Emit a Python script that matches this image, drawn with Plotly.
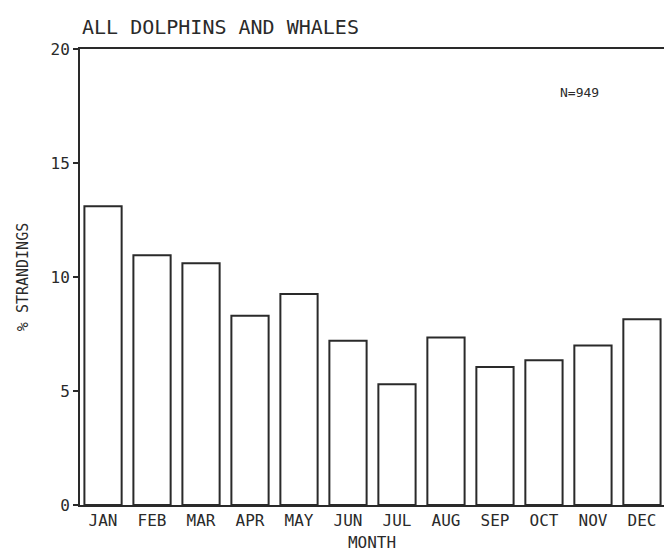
import plotly.graph_objects as go

months = ["JAN", "FEB", "MAR", "APR", "MAY", "JUN", "JUL", "AUG", "SEP", "OCT", "NOV", "DEC"]
month_labels = ["JAN", "FEB", "MAR", "APR", "MAY", "JUN", "JUL", "AUG", "SEP", "OCT", "NOV", "DEC"]
pct_strandings = [13.1, 10.95, 10.6, 8.3, 9.25, 7.2, 5.3, 7.35, 6.05, 6.35, 7.0, 8.15]
y_ticks = [0, 5, 10, 15, 20]

INK = "#2a2a2a"
FONT = "DejaVu Sans Mono"

fig = go.Figure()
fig.add_trace(go.Bar(
    x=list(range(len(months))),
    y=pct_strandings,
    marker=dict(color="white", line=dict(color=INK, width=2)),
    width=0.76,
    hoverinfo="skip",
))

fig.update_layout(
    width=664, height=559,
    paper_bgcolor="white", plot_bgcolor="white",
    margin=dict(l=80, r=0, t=49, b=54),
    showlegend=False,
    font=dict(family=FONT, color=INK),
    title=dict(text="ALL DOLPHINS AND WHALES", x=82/664, xanchor="left",
               y=1 - 27/559, yanchor="middle",
               font=dict(family=FONT, size=20, color=INK)),
    xaxis=dict(
        range=[-0.47, 11.45],
        tickmode="array", tickvals=list(range(len(months))), ticktext=month_labels,
        ticks="", showgrid=False, zeroline=False,
        showline=True, linecolor=INK, linewidth=2, mirror=True,
        tickfont=dict(family=FONT, size=16, color=INK),
        title=dict(text="MONTH", font=dict(family=FONT, size=16, color=INK), standoff=8),
    ),
    yaxis=dict(
        range=[0, 20],
        tickmode="array", tickvals=y_ticks, ticktext=[str(v) for v in y_ticks],
        ticks="outside", ticklen=5, tickwidth=1.5, tickcolor=INK,
        showgrid=False, zeroline=False,
        showline=True, linecolor=INK, linewidth=2,
        tickfont=dict(family=FONT, size=16, color=INK),
        title=dict(text="% STRANDINGS", font=dict(family=FONT, size=15, color=INK), standoff=18),
    ),
    annotations=[dict(
        text="N=949", x=(579 - 80) / 584, y=(505 - 93) / 456, xref="paper", yref="paper",
        xanchor="center", yanchor="middle", showarrow=False,
        font=dict(family=FONT, size=13, color=INK),
    )],
)

fig.write_html("out.html", config={"displayModeBar": False},
               post_script="document.body.style.margin='0';document.body.style.overflow='hidden';")
